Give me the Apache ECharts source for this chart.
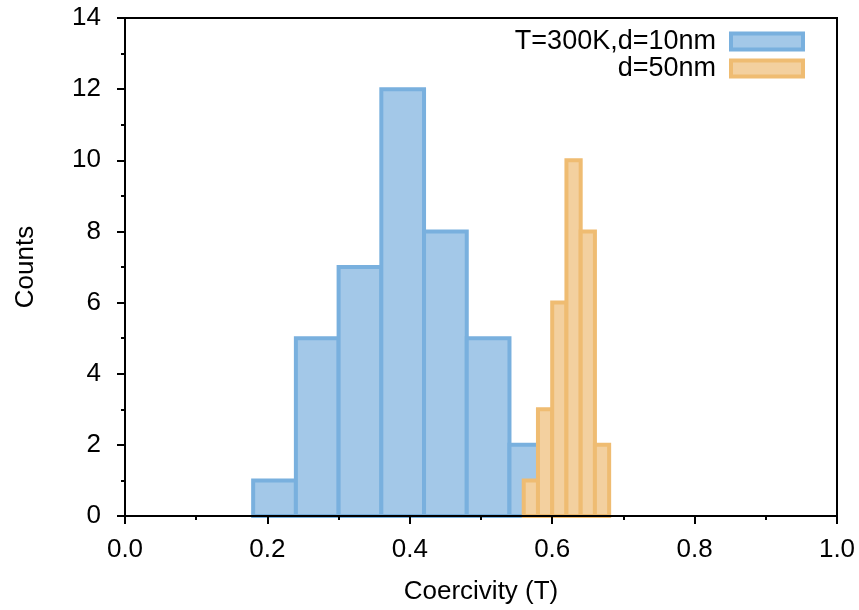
<!DOCTYPE html>
<html>
<head>
<meta charset="utf-8">
<script src="https://cdn.jsdelivr.net/npm/echarts@6/dist/echarts.min.js"></script>
<style>
  html, body { margin: 0; padding: 0; background: #fff; }
  #chart { width: 859px; height: 610px; }
</style>
</head>
<body>
<div id="chart"></div>
<script>
// Histogram bin edges (T) and counts for each sample
const seriesNames = ['T=300K,d=10nm', 'd=50nm'];
const blueBinEdges = [0.18, 0.24, 0.30, 0.36, 0.42, 0.48, 0.54, 0.60];
const blueCounts = [1, 5, 7, 12, 8, 5, 2];
const orangeBinEdges = [0.56, 0.58, 0.60, 0.62, 0.64, 0.66, 0.68];
const orangeCounts = [1, 3, 6, 10, 8, 2];

const FONT = '"Liberation Sans", Arial, Helvetica, sans-serif';
const FS = 26;

const blueStyle = { fill: '#a3c8e8', stroke: '#79b0de' };
const orangeStyle = { fill: '#f3d09f', stroke: '#efbc72' };

function binData(edges, counts) {
  return counts.map((c, i) => [edges[i], edges[i + 1], c]);
}

function histRenderer(style) {
  return function (params, api) {
    const x0 = api.value(0), x1 = api.value(1), c = api.value(2);
    const p0 = api.coord([x0, c]);
    const p1 = api.coord([x1, 0]);
    return {
      type: 'rect',
      shape: { x: p0[0], y: p0[1], width: p1[0] - p0[0], height: p1[1] - p0[1] },
      style: { fill: style.fill, stroke: style.stroke, lineWidth: 4 }
    };
  };
}

const chart = echarts.init(document.getElementById('chart'), null, { renderer: 'canvas' });

chart.setOption({
  animation: false,
  backgroundColor: '#fff',
  textStyle: { fontFamily: FONT, color: '#000' },
  grid: {
    left: 125, right: 22, top: 18, bottom: 94,
    show: true, borderColor: '#000', borderWidth: 2, backgroundColor: 'transparent'
  },
  legend: {
    orient: 'vertical',
    right: 49, top: 23,
    align: 'right',
    itemWidth: 72, itemHeight: 16, itemGap: 0,
    icon: 'rect',
    textStyle: { fontFamily: FONT, fontSize: 27, color: '#000', lineHeight: 18, padding: [0, 10, 0, 0] },
    data: [
      { name: seriesNames[0], itemStyle: { color: blueStyle.fill, borderColor: blueStyle.stroke, borderWidth: 4 } },
      { name: seriesNames[1], itemStyle: { color: orangeStyle.fill, borderColor: orangeStyle.stroke, borderWidth: 4 } }
    ]
  },
  xAxis: {
    type: 'value', min: 0, max: 1, interval: 0.2, z: 10,
    name: 'Coercivity (T)', nameLocation: 'middle', nameGap: 63,
    nameTextStyle: { fontFamily: FONT, fontSize: FS, color: '#000' },
    axisLine: { show: true, onZero: false, lineStyle: { color: '#000', width: 2 } },
    axisTick: { show: true, length: 8, lineStyle: { color: '#000', width: 2 } },
    minorTick: { show: true, splitNumber: 2, length: 4, lineStyle: { color: '#000', width: 2 } },
    splitLine: { show: false },
    axisLabel: {
      fontFamily: FONT, fontSize: FS, color: '#000', margin: 21,
      formatter: v => v.toFixed(1)
    }
  },
  yAxis: {
    type: 'value', min: 0, max: 14, interval: 2, z: 10,
    name: 'Counts', nameLocation: 'middle', nameGap: 86,
    nameTextStyle: { fontFamily: FONT, fontSize: FS, color: '#000' },
    axisLine: { show: true, lineStyle: { color: '#000', width: 2 } },
    axisTick: { show: true, length: 8, lineStyle: { color: '#000', width: 2 } },
    minorTick: { show: true, splitNumber: 2, length: 4, lineStyle: { color: '#000', width: 2 } },
    splitLine: { show: false },
    axisLabel: { fontFamily: FONT, fontSize: FS, color: '#000', margin: 24 }
  },
  series: [
    {
      name: seriesNames[0], type: 'custom', clip: false,
      renderItem: histRenderer(blueStyle),
      itemStyle: { color: blueStyle.fill },
      encode: { x: [0, 1], y: 2 },
      data: binData(blueBinEdges, blueCounts)
    },
    {
      name: seriesNames[1], type: 'custom', clip: false,
      renderItem: histRenderer(orangeStyle),
      itemStyle: { color: orangeStyle.fill },
      encode: { x: [0, 1], y: 2 },
      data: binData(orangeBinEdges, orangeCounts)
    }
  ]
});
</script>
</body>
</html>
